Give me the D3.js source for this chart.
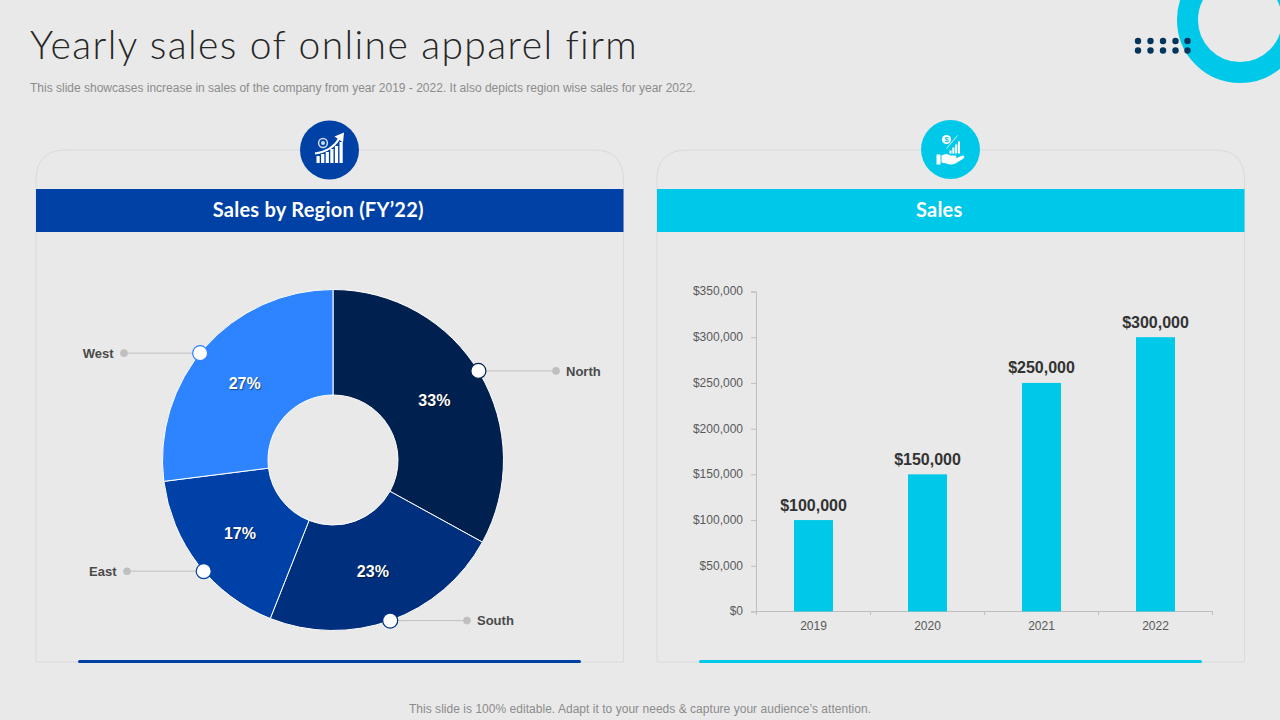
<!DOCTYPE html>
<html>
<head>
<meta charset="utf-8">
<script src="https://cdn.jsdelivr.net/npm/d3@7"></script>
<style>
  html, body { margin: 0; padding: 0; background: #e9e9e9; }
  svg { display: block; }
  text { font-family: "Liberation Sans", Arial, sans-serif; }
</style>
</head>
<body>
<svg id="slide" width="1280" height="720"></svg>
<script>
// pie data
var regions = ["North", "South", "East", "West"];
var regionShare = [33, 23, 17, 27];
var regionColors = ["#00214f", "#002f7e", "#0041a8", "#2e84ff"];

// bar data
var years = ["2019", "2020", "2021", "2022"];
var sales = [100000, 150000, 250000, 300000];
var salesTicks = [0, 50000, 100000, 150000, 200000, 250000, 300000, 350000];

var bg = "#e9e9e9";
var blue = "#0041a5";
var cyan = "#00c8e8";
var svg = d3.select("#slide");

svg.append("rect").attr("width", 1280).attr("height", 720).attr("fill", bg);

// top right decoration
svg.append("circle")
  .attr("cx", 1240).attr("cy", 20).attr("r", 52.5)
  .attr("fill", "none").attr("stroke", cyan).attr("stroke-width", 21);

var dotX = [1138, 1150.5, 1163, 1175.5, 1187.5];
var dotY = [41, 50.5];
dotY.forEach(function(y) {
  svg.selectAll(null)
    .data(dotX)
    .enter()
    .append("circle")
    .attr("cx", function(d) { return d; })
    .attr("cy", y)
    .attr("r", 3.2)
    .attr("fill", "#04355c");
});

// title
svg.append("text")
  .attr("x", 30).attr("y", 59)
  .attr("font-size", 39)
  .style("font-family", "Lato, sans-serif")
  .style("font-weight", 300)
  .style("letter-spacing", "1.4px")
  .attr("fill", "#262626")
  .text("Yearly sales of online apparel firm");

svg.append("text")
  .attr("x", 30).attr("y", 92)
  .attr("font-size", 12)
  .attr("fill", "#8c8c8c")
  .text("This slide showcases increase in sales of the company from year 2019 - 2022. It also depicts region wise sales for year 2022.");

svg.append("text")
  .attr("x", 640).attr("y", 713)
  .attr("text-anchor", "middle")
  .attr("font-size", 12)
  .style("letter-spacing", "0.03px")
  .attr("fill", "#8c8c8c")
  .text("This slide is 100% editable. Adapt it to your needs & capture your audience\u2019s attention.");

// the two panels
function panel(x, w, color, title) {
  var r = 30, top = 150, bottom = 662;
  svg.append("path")
    .attr("d", "M" + x + "," + bottom + "V" + (top + r) + "Q" + x + "," + top + " " + (x + r) + "," + top +
      "H" + (x + w - r) + "Q" + (x + w) + "," + top + " " + (x + w) + "," + (top + r) + "V" + bottom + "Z")
    .attr("fill", "none")
    .attr("stroke", "#dadada");
  svg.append("rect")
    .attr("x", x).attr("y", 189).attr("width", w).attr("height", 43)
    .attr("fill", color);
  // titles sit a little left of the panel centre in the original
  svg.append("text")
    .attr("x", x + w / 2 - 11.5).attr("y", 217)
    .attr("text-anchor", "middle")
    .attr("font-size", 20)
    .style("font-family", "Lato, sans-serif")
    .style("font-weight", 700)
    .style("letter-spacing", "0.25px")
    .attr("fill", "#ffffff")
    .text(title);
  svg.append("rect")
    .attr("x", x + 42).attr("y", 660).attr("width", 503).attr("height", 3)
    .attr("rx", 1.5)
    .attr("fill", color);
}
panel(36, 587.5, blue, "Sales by Region (FY\u201922)");
panel(657, 587.5, cyan, "Sales");

// icon badges
var leftIcon = svg.append("g").attr("transform", "translate(329.5,150)");
leftIcon.append("circle").attr("r", 29.5).attr("fill", blue);
leftIcon.selectAll("rect")
  .data([7, 9, 11, 14, 17, 21])
  .enter()
  .append("rect")
  .attr("x", function(d, i) { return -13 + i * 4.6; })
  .attr("y", function(d) { return 13 - d; })
  .attr("width", 3.2)
  .attr("height", function(d) { return d; })
  .attr("fill", "#ffffff");
leftIcon.append("path")
  .attr("d", "M-14.5,3.5Q3,1 10,-12")
  .attr("fill", "none").attr("stroke", "#ffffff").attr("stroke-width", 2);
leftIcon.append("path").attr("d", "M5,-13.5L14.5,-17.5L13.5,-7.5Z").attr("fill", "#ffffff");
leftIcon.append("circle").attr("cx", -6.5).attr("cy", -7).attr("r", 4.4)
  .attr("fill", "none").attr("stroke", "#cfdcf0").attr("stroke-width", 1.5);
leftIcon.append("circle").attr("cx", -6.5).attr("cy", -7).attr("r", 2).attr("fill", "#cfdcf0");

var rightIcon = svg.append("g").attr("transform", "translate(950.5,149.5)");
rightIcon.append("circle").attr("r", 29.5).attr("fill", cyan);
rightIcon.append("path")
  .attr("d", "M-14,5H-10V15H-14ZM-9,6Q-4,3 0,6H5Q7,7 5,9H-1H5L12,6Q15,6 13,9L5,14Q0,16 -4,14L-9,13Z")
  .attr("fill", "#ffffff");
rightIcon.selectAll("rect")
  .data([3, 6, 9, 12])
  .enter()
  .append("rect")
  .attr("x", function(d, i) { return -1 + i * 2.8; })
  .attr("y", function(d) { return 4 - d; })
  .attr("width", 2.1)
  .attr("height", function(d) { return d; })
  .attr("fill", "#ffffff");
rightIcon.append("circle").attr("cx", -4).attr("cy", -10).attr("r", 4.6).attr("fill", "#ffffff");
rightIcon.append("text")
  .attr("x", -4).attr("y", -7.3)
  .attr("text-anchor", "middle")
  .attr("font-size", 7.5)
  .attr("font-weight", 700)
  .attr("fill", cyan)
  .text("$");
rightIcon.append("path")
  .attr("d", "M-4,-1L7,-14")
  .attr("stroke", "#ffffff").attr("stroke-width", 0.8);

// donut
var donut = svg.append("g").attr("transform", "translate(333,460)");
var pie = d3.pie().sort(null).value(function(d) { return d; });
var arc = d3.arc().innerRadius(65).outerRadius(170.5);
var slices = pie(regionShare);

donut.selectAll("path")
  .data(slices)
  .enter()
  .append("path")
  .attr("d", arc)
  .attr("fill", function(d, i) { return regionColors[i]; })
  .attr("stroke", "#ffffff")
  .attr("stroke-width", 1);

donut.selectAll("text.pct")
  .data(slices)
  .enter()
  .append("text")
  .attr("class", "pct")
  .attr("transform", function(d) { return "translate(" + arc.centroid(d) + ")"; })
  .attr("text-anchor", "middle")
  .attr("dy", "0.4em")
  .attr("font-size", 16)
  .attr("font-weight", 700)
  .style("text-shadow", "1px 1px 1px rgba(0,0,0,0.45)")
  .attr("fill", "#ffffff")
  .text(function(d) { return d.data + "%"; });

// callouts: marker angle on the rim (degrees), where the leader line stops
var calloutAngle = [58.5, 160.4, 229.3, 308.8];
var calloutEnd = [223, 134, -206, -209];
var rim = d3.scaleLinear().domain([0, 360]).range([0, 2 * Math.PI]);

regions.forEach(function(name, i) {
  var a = rim(calloutAngle[i]);
  var mx = 170.5 * Math.sin(a), my = -170.5 * Math.cos(a);
  var end = calloutEnd[i];
  var right = end > 0;
  donut.append("line")
    .attr("x1", mx).attr("y1", my).attr("x2", end).attr("y2", my)
    .attr("stroke", "#bfbfbf");
  donut.append("circle")
    .attr("cx", end).attr("cy", my).attr("r", 3.8)
    .attr("fill", "#bfbfbf");
  donut.append("circle")
    .attr("cx", mx).attr("cy", my).attr("r", 7.5)
    .attr("fill", "#ffffff")
    .attr("stroke", regionColors[i])
    .attr("stroke-width", 1.2);
  donut.append("text")
    .attr("x", right ? end + 10 : end - 10.5)
    .attr("y", my)
    .attr("dy", "0.36em")
    .attr("text-anchor", right ? "start" : "end")
    .attr("font-size", 13)
    .attr("font-weight", 700)
    .attr("fill", "#4a4a4a")
    .text(name);
});

// bar chart
var xScale = d3.scaleBand()
  .domain(years)
  .range([756.5, 1212.5])
  .paddingInner(0.658)
  .paddingOuter(0.329);

var yScale = d3.scaleLinear()
  .domain([0, 350000])
  .range([611.5, 291.5]);

var yAxis = d3.axisLeft(yScale)
  .tickValues(salesTicks)
  .tickFormat(function(d) { return "$" + d3.format(",")(d); })
  .tickSize(5)
  .tickPadding(8);

var xAxis = d3.axisBottom(xScale).tickSize(0).tickPadding(10);

var gy = svg.append("g").attr("transform", "translate(756,0)").call(yAxis);
var gx = svg.append("g").attr("transform", "translate(0,611)").call(xAxis);

gy.selectAll("text").attr("dy", "0.28em");

// x axis ticks sit between the categories
gx.selectAll("line.sep")
  .data(d3.range(years.length + 1))
  .enter()
  .append("line")
  .attr("class", "sep")
  .attr("x1", function(d) { return 756.5 + d * xScale.step(); })
  .attr("x2", function(d) { return 756.5 + d * xScale.step(); })
  .attr("y1", 0)
  .attr("y2", 4)
  .attr("stroke", "#bfbfbf");

[gy, gx].forEach(function(g) {
  g.selectAll(".domain, .tick line").attr("stroke", "#bfbfbf");
  g.selectAll("text")
    .attr("font-size", 12)
    .style("font-family", '"Liberation Sans", Arial, sans-serif')
    .attr("fill", "#595959");
});

svg.selectAll("rect.bar")
  .data(sales)
  .enter()
  .append("rect")
  .attr("class", "bar")
  .attr("x", function(d, i) { return xScale(years[i]); })
  .attr("y", function(d) { return yScale(d); })
  .attr("width", xScale.bandwidth())
  .attr("height", function(d) { return yScale(0) - yScale(d); })
  .attr("fill", cyan);

svg.selectAll("text.barLabel")
  .data(sales)
  .enter()
  .append("text")
  .attr("class", "barLabel")
  .attr("x", function(d, i) { return xScale(years[i]) + xScale.bandwidth() / 2; })
  .attr("y", function(d) { return yScale(d) - 9.5; })
  .attr("text-anchor", "middle")
  .attr("font-size", 16)
  .attr("font-weight", 700)
  .attr("fill", "#333333")
  .text(function(d) { return "$" + d3.format(",")(d); });
</script>
</body>
</html>
